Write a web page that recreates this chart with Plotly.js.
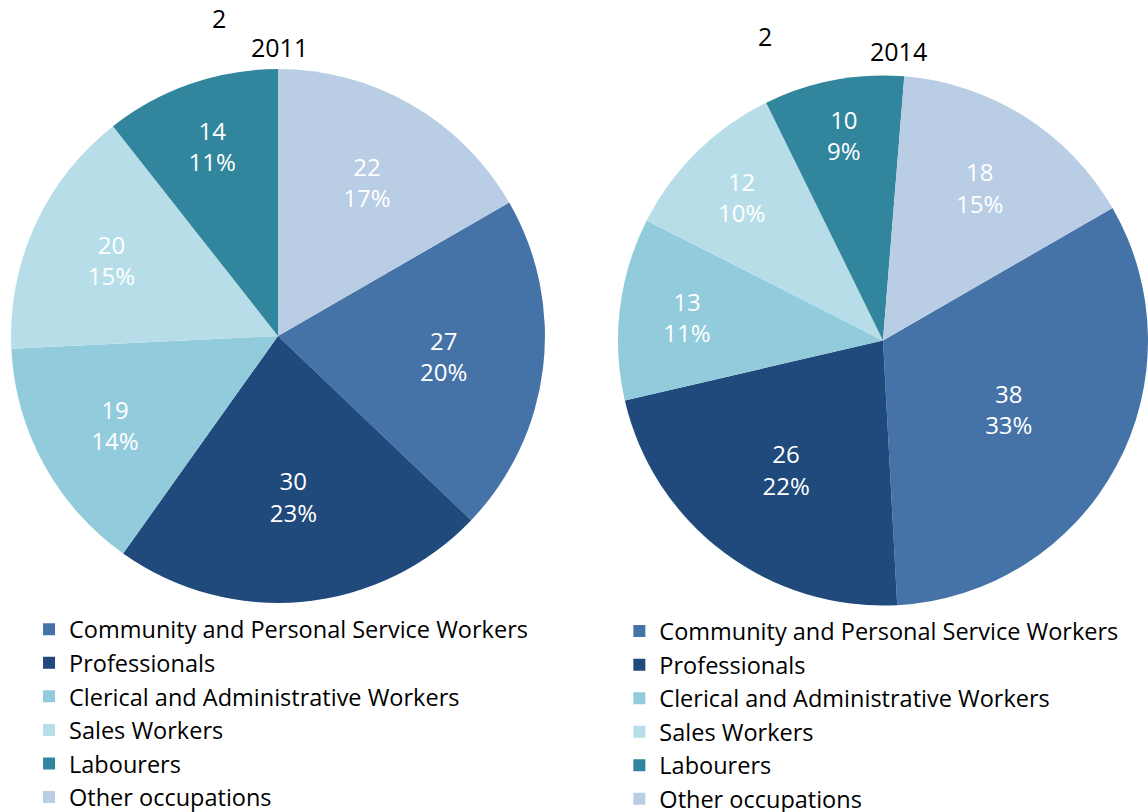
<!DOCTYPE html>
<html>
<head>
<meta charset="utf-8">
<script src="https://cdn.plot.ly/plotly-3.0.1.min.js"></script>
<style>
  html, body { margin: 0; padding: 0; background: #ffffff; overflow: hidden; }
  #chart { width: 1148px; height: 830px; }
</style>
</head>
<body>
<div id="chart"></div>
<script>
// ------------------------------------------------------------------------------
// DATA

const occupations = [
    'Community and Personal Service Workers',
    'Professionals',
    'Clerical and Administrative Workers',
    'Sales Workers',
    'Labourers',
    'Other occupations'
];

const values_2011 = [27, 30, 19, 20, 14, 22];
const pct_2011    = ['20%', '23%', '14%', '15%', '11%', '17%'];

const values_2014 = [38, 26, 13, 12, 10, 18];
const pct_2014    = ['33%', '22%', '11%', '10%', '9%', '15%'];

const slice_colors = ['#4573A7', '#20497C', '#92CBDC', '#B7DEE8', '#31859C', '#B9CDE5'];

// ------------------------------------------------------------------------------
// LAYOUT

const font_family = 'Open Sans, Noto Sans, sans-serif';
// the paper is a little taller than the window so the legends don't push the margins
const paper_h = 830;

// pie legends merge equal labels, so the second pie gets a trailing space
const labels_2014 = occupations.map(s => s + ' ');

function make_pie(labels, values, pcts, domain, legend_id) {
    return {
        type: 'pie',
        labels: labels,
        values: values,
        text: pcts,
        texttemplate: '%{value}<br>%{text}',
        textinfo: 'text',
        textposition: 'inside',
        insidetextorientation: 'horizontal',
        insidetextfont: { family: font_family, color: '#ffffff', size: 24 },
        sort: false,
        direction: 'clockwise',
        rotation: 60,
        marker: { colors: slice_colors, line: { width: 0 } },
        domain: domain,
        legend: legend_id,
        hoverinfo: 'none'
    };
}

const traces = [
    make_pie(occupations, values_2011, pct_2011, { x: [0.0096, 0.4747], y: [0.2735, 0.9169] }, 'legend'),
    make_pie(labels_2014, values_2014, pct_2014, { x: [0.5383, 1.0], y: [0.2699, 0.9096] }, 'legend2')
];

const legend_style = {
    orientation: 'v',
    xanchor: 'left',
    yanchor: 'top',
    bgcolor: 'rgba(0,0,0,0)',
    font: { family: font_family, size: 23.5, color: '#000000' },
    itemclick: false,
    itemdoubleclick: false
};

const layout = {
    width: 1148,
    height: paper_h,
    margin: { l: 0, r: 0, t: 0, b: 0 },
    paper_bgcolor: '#ffffff',
    font: { family: font_family, color: '#000000' },
    showlegend: true,
    legend:  Object.assign({ x: 0.0253, y: 0.2681 }, legend_style),
    legend2: Object.assign({ x: 0.5395, y: 0.2659 }, legend_style),
    annotations: [
        { text: '2011', x: 279, y: 47, xref: 'x', yref: 'y', showarrow: false,
          font: { family: font_family, size: 25, color: '#000000' } },
        { text: '2014', x: 898, y: 51, xref: 'x', yref: 'y', showarrow: false,
          font: { family: font_family, size: 25, color: '#000000' } },
        { text: '2', x: 219, y: 18, xref: 'x', yref: 'y', showarrow: false,
          font: { family: font_family, size: 25, color: '#000000' } },
        { text: '2', x: 765, y: 36, xref: 'x', yref: 'y', showarrow: false,
          font: { family: font_family, size: 25, color: '#000000' } }
    ],
    // hidden pixel axes, only used to place the titles
    xaxis: { range: [0, 1148], visible: false, fixedrange: true },
    yaxis: { range: [paper_h, 0], visible: false, fixedrange: true }
};

Plotly.newPlot('chart', traces, layout, { displayModeBar: false, staticPlot: true });
</script>
</body>
</html>
